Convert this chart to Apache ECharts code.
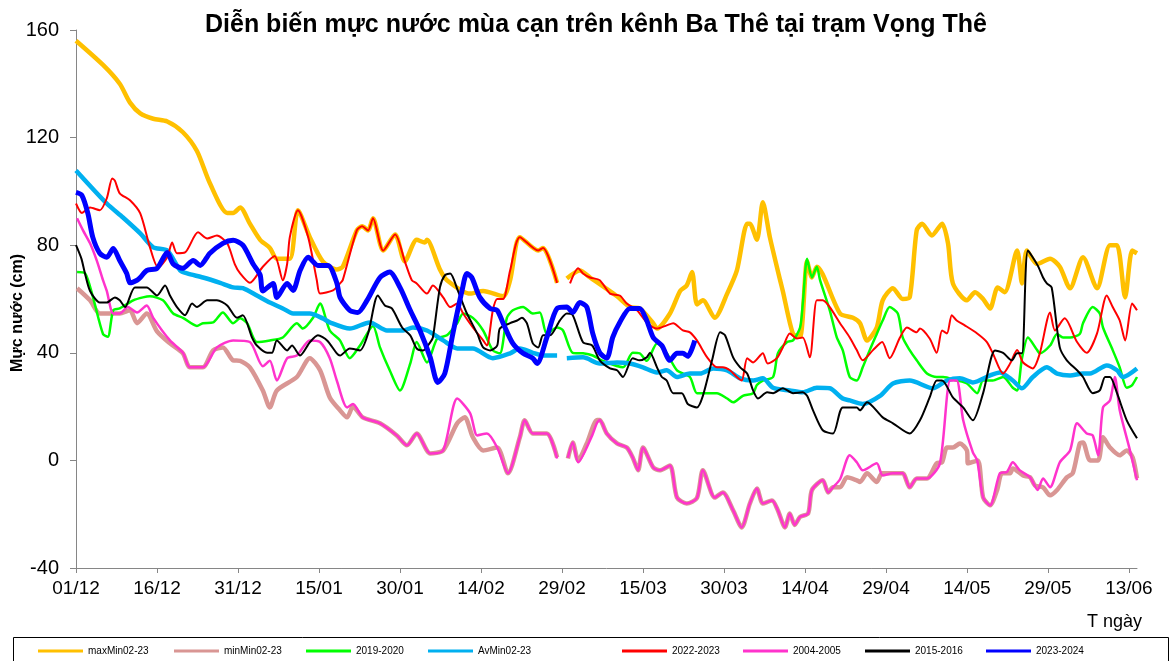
<!DOCTYPE html>
<html>
<head>
<meta charset="utf-8">
<title>Vọng Thê</title>
<script src="https://cdn.jsdelivr.net/npm/echarts@6/dist/echarts.min.js"></script>
<style>
  html, body { margin: 0; padding: 0; background: #fff; }
  #chart { width: 1174px; height: 661px; }
</style>
</head>
<body>
<div id="chart"></div>
<script>
// nhãn trục ngang, mỗi 15 ngày kể từ 01/12
var xTicks = ['01/12','16/12','31/12','15/01','30/01','14/02','29/02','15/03','30/03','14/04','29/04','14/05','29/05','13/06'];
var yTicks = [-40, 0, 40, 80, 120, 160];

// [ngày kể từ 01/12, mực nước cm]; null = thiếu số liệu
var maxMin = [[0,156],[5,147],[8.1,140],[10,133],[11.9,129],[14.3,127],[16.9,126],[19.8,122],[22.4,115],[24.8,103],[28,92],[29.1,92],[30.4,94],[32.2,88],[34.1,82],[35.9,79],[37.2,75],[39.6,75],[41.1,93],[43.3,83],[45.7,74],[48.3,71],[49.4,72],[52,85.5],[53,87],[54.1,85.5],[55,90],[56.9,78],[59.1,84],[60.9,74],[63.1,82],[64.6,81],[65,82],[67.4,71],[68.7,67],[73,62],[75.4,63],[79.1,61],[80.4,67],[82.2,83],[85.6,78],[86.5,79],[89.1,66],[90,null],[90.9,67.6],[93.3,70.6],[95.2,68],[100.2,61],[102.6,57],[104.4,56.5],[106.9,51],[107.6,49],[110,54.6],[111.9,63],[113.1,65],[114.1,70],[115,58],[116.1,59.5],[118.3,53],[120.6,62],[122.4,70.6],[124.3,88],[124.8,88],[126.1,82],[127.2,96],[128.5,83],[130.4,67],[130.9,63],[132.8,47],[134.1,46],[135.4,74],[136.3,68],[137.2,72],[141.5,54.6],[143.9,53],[145.2,51],[146.5,44.6],[148.3,49.4],[149.4,59.5],[151.3,64],[153.1,60],[154.4,60.6],[155.7,85.5],[156.7,88],[158.5,83.6],[160.4,88],[161.5,80.7],[162.4,65.8],[165,59.5],[166.5,62.5],[168,60],[169.3,56.5],[170.7,64.3],[172,62.5],[174.3,78],[175.2,65.8],[176.1,78],[178,73],[180.4,75],[182.2,72],[184.1,64],[186.5,75.5],[189.1,64],[191.5,80],[192.8,80],[194.3,60.6],[195.6,78],[196.5,77]];
var minMin = [[0.2,64],[2.6,59.5],[4.4,54.6],[6.9,54.6],[8.1,54.6],[10,55.8],[11.3,51],[13.1,54.6],[15,48],[17.4,43.5],[19.8,39.8],[21.1,34.6],[23.5,34.6],[25.4,40.9],[27.2,42],[29.1,37.2],[30.4,37],[32.2,34.6],[34.6,26],[35.9,19.7],[37.2,26],[40.9,31],[43.3,38],[45.2,33.5],[47,23.4],[48.9,18.6],[50.2,16],[51.3,20],[53.1,16],[56.3,13.8],[59.4,9.3],[61.3,5.6],[63.1,10],[65.6,2.6],[68,3.7],[70.6,13.8],[72,16],[73.5,8.6],[75.4,3.7],[78,4.8],[80,-4.8],[82.2,8.6],[83.1,14.9],[84.6,10],[87.2,10],[89.1,1.1],[90,null],[91.1,0.7],[92,6.7],[93,0],[94.6,6.3],[96.5,15],[97,15],[98.3,10],[100.2,6.3],[102,4.8],[103.1,1.1],[104.1,-3.7],[105,4.8],[106.9,-2.6],[108.1,-3.7],[110,-1.9],[111.3,-13.8],[113.1,-16],[115,-14],[116.1,-3.7],[118.3,-13.8],[119.8,-11.9],[121.7,-18.6],[123.3,-24.9],[124.8,-16],[126.1,-10.4],[127.2,-16],[128.9,-14.9],[130,-18.6],[131.3,-24.9],[132.2,-19.7],[133.1,-24],[134.1,-21],[135.6,-19.7],[136.3,-11],[138.3,-7.4],[139.3,-11.9],[140.2,-10],[141.5,-10],[142.8,-6.3],[144.6,-7.4],[145.2,-8],[146.5,-4.8],[148.3,-8],[149.3,-4.8],[151.3,-4.8],[153.1,-4.8],[154.4,-10],[155.7,-6.7],[157.6,-6.7],[159.4,-1.1],[160.4,-0.7],[161.3,4.8],[162.4,4.8],[163.7,6.3],[165,3.7],[165.2,-1.1],[167,0],[168,-13.8],[169.3,-16.7],[170.6,-11],[171.5,-4.8],[173,-4.8],[173.5,-3],[175.4,-5.6],[176.7,-6.3],[177.6,-9.3],[179.1,-10],[180.4,-13],[181.7,-11],[183.5,-6.3],[184.6,-4.8],[185.9,6.3],[186.5,6.7],[187.8,0],[189.3,0],[190.2,8.6],[191.5,4.8],[193.3,1.9],[194.6,3.7],[195.7,1.1],[196.5,-6.7]];
var y2019 = [[0.2,70],[1.7,69.5],[3.1,61],[5,47],[5.9,46],[6.9,55.8],[8.1,56.5],[10.6,59.5],[12.4,60.6],[13.7,61],[16.1,59.5],[18,54.6],[19.8,53],[22.4,50],[23.5,51],[25.4,51.3],[27.2,55],[29.1,51],[30.4,52.8],[31.7,51],[33.5,44],[35.9,44.6],[38.3,45.7],[40.9,51],[42,49],[43.9,53],[45.2,58.3],[47,48.3],[48.9,44.6],[50.7,38],[52.6,42.7],[55,50],[56.3,42],[58.1,33.5],[60,26],[61.9,36],[63.1,44],[65,36.4],[66.9,45.3],[68.7,46.5],[70.6,51],[71.7,54.6],[73.5,53],[75.4,48.3],[77.2,40.9],[78.5,39.8],[79.8,53],[80.9,55.8],[82.8,57],[84.6,54.6],[85.9,55],[87.2,47],[89.1,49.4],[90.2,48.3],[92,40],[93.9,39.8],[95.7,39],[97.6,37],[101.3,34.6],[103.1,40],[104.4,39.8],[105.7,37],[107.6,43.5],[109.4,39.8],[111.3,33.5],[113.7,31],[115,25],[116.9,25],[118.7,25],[120.6,23],[121.7,21.6],[123.5,24],[125.4,25],[126.1,28],[127.2,29.7],[129.1,31],[130,39.8],[131.7,44],[132.8,44.6],[134.1,49.4],[134.6,58.3],[135.4,75],[136.3,68],[137.2,72],[137.8,67],[139.6,55.8],[140.9,45.7],[142,41],[143.3,31],[144.6,29.7],[145.7,34.6],[147,41],[148.3,47],[149.4,52],[150.7,57],[152.2,54.6],[153.1,45.7],[154.4,41],[155.7,37.2],[157.6,32.3],[159.4,31],[160.6,31],[163.1,29.7],[165,28.6],[166.9,25],[168,29.7],[169.8,29.7],[171.7,31],[173.5,27],[174.3,26],[175.2,38],[176.3,45.7],[178,41],[178.5,39.8],[180.4,42.7],[181.7,47],[182.8,45.7],[184.1,45.7],[185.9,47],[186.5,51],[188.3,57],[189.6,54.6],[190.2,49.4],[192,41],[193.3,34.6],[194.6,27],[195.6,28],[196.5,31]];
var avMin = [[0,107.8],[5.7,95.5],[8.7,90.3],[11.9,84.4],[14.3,79.2],[16.9,78],[19.3,70.6],[20.6,69.5],[23.5,68],[26.7,66],[29.1,64.3],[30.9,64],[33.5,61.3],[35.9,58.7],[38.3,56.5],[40.2,54.6],[43.3,54.6],[45.7,52.8],[47,51.3],[50.7,49],[54.4,51.3],[57.6,48.3],[60.6,48.3],[62.4,49.4],[65,48.3],[68,44.6],[70.6,41.6],[73.5,41.6],[77.2,38],[80.4,39.8],[82.2,41.6],[84.6,40],[86.5,39],[89.1,39],[90,null],[90.9,38],[93.9,38.3],[97,36],[100.2,36.4],[102.6,36],[105,34.6],[107.6,32.7],[109.4,33.5],[111.3,31],[113.7,32.3],[115.6,32.3],[118,34.2],[120.6,33.5],[123,30.5],[125.4,29.7],[127.2,30.5],[129.1,27],[132.2,26],[134.6,25.3],[137.2,27],[139.6,26.8],[142,23],[143.3,22.3],[145.7,21],[148.9,24],[151.3,28.6],[154.4,29.7],[158.7,26.8],[161.3,29.7],[163.7,30.5],[166.1,29],[169.3,31.6],[171.1,32.7],[173.5,29.7],[175.2,26.8],[177.2,31],[179.8,34.6],[181.7,32.3],[184.1,31.6],[186.5,32.3],[187.8,32.3],[190.9,35.3],[192.8,33.5],[193.9,31],[196.5,34.2]];
var y2022 = [[0,95.5],[1.1,92],[2.6,94],[4.4,93],[5.7,97.4],[6.7,104.8],[7.2,104],[8.1,99.3],[10,96.7],[11.9,91.8],[13.7,79.2],[15.2,71.7],[16.9,75.5],[17.8,81],[18.7,77],[20.2,77.3],[22.6,84.8],[24.3,82.5],[26.1,83.6],[28,80.7],[29.4,73],[30.4,69.5],[32.2,66],[34.6,72],[36.8,76],[38.3,67],[39.1,73],[39.6,83],[41.1,93],[43,83],[44.6,67],[45.2,62],[47.6,63.2],[48.9,65.8],[49.4,67],[52,85.5],[53,87],[54.1,85.5],[55,90],[56.9,78],[59.1,84],[60.9,74],[62.2,67],[63.1,65.8],[65,62],[66.1,65],[68,60.6],[69.3,57],[70.6,58.3],[71.7,54.6],[73.5,49.4],[75.4,44.6],[76.1,42.7],[77.2,55.8],[78,60],[79.1,60],[80.4,70.6],[82.2,83],[85.6,78],[86.5,79],[89.1,66],[90,null],[91.5,65.8],[93,71.4],[93.9,69.5],[95.2,68],[97,67],[98.9,62],[100.7,61.3],[102,58.3],[103.9,55.8],[105.7,51.3],[107.6,49],[109.4,50.2],[110.6,51],[112.4,48.3],[113.7,47.6],[115,44.6],[116.9,38.3],[118.7,34.6],[119.8,34.6],[121.1,33.5],[122.4,31],[123.3,29.7],[124.3,38],[125.4,36.4],[127.2,39.8],[128.1,36],[129.8,38],[130.9,42],[132.2,47.2],[133.5,45.3],[134.6,45.7],[135.9,38.3],[137.2,59.5],[138.3,59.5],[139.6,57],[141.5,51],[143.3,45.7],[144.6,41],[145.7,37.2],[147.6,41],[149.3,44],[150.7,38],[152.6,45.7],[153.9,49.4],[155.7,47.6],[156.3,49],[158.1,45.3],[159.4,40],[160.4,48.3],[161.3,47.2],[162.2,54],[163.1,52],[164.6,50.2],[166.9,47.2],[168.7,44],[169.8,39.8],[171.7,32.3],[173,36],[174.3,41],[175.4,36.4],[177.2,34.2],[178.5,39.8],[180.4,55],[181.3,48.3],[183.1,52.8],[185.4,44],[187.2,40],[189.1,47.2],[190.9,61.3],[192,57],[193.3,52],[194.3,44.6],[195.6,58.3],[196.5,55.8]];
var y2004 = [[0.2,90],[1.3,85.5],[2.6,80.7],[3.9,74],[5,67],[5.7,63],[6.9,54.6],[8.1,54.6],[9.6,57],[11.3,55],[13.1,57.6],[14.3,53],[17.4,44.6],[19.8,40],[21.1,34.6],[23.5,34.6],[26.1,42],[29.1,44.6],[32.2,44],[34.6,35],[35.9,37],[37.2,29.7],[39.1,38],[40.9,39],[43.3,44.6],[45.2,44],[47,38],[48.3,29.7],[50.2,19.7],[51.3,21],[53.1,16],[56.3,13.8],[59.4,9.3],[61.3,5.6],[63.1,10],[65.6,2.6],[68,3.7],[70.6,23],[73,17.5],[74.3,9.3],[76.1,10],[78,4.8],[80,-4.8],[82.2,8.6],[83.1,14.9],[84.6,10],[87.2,10],[89.1,0.7],[90,null],[91.1,1],[92,6.7],[93,-0.7],[95.6,9.3],[96.5,14],[97,15],[98.3,10],[100.2,6.3],[102,4.8],[103.1,1.1],[104.1,-3.7],[105,4.8],[106.9,-2.6],[108.1,-3.7],[110,-1.9],[111.3,-13.8],[113.1,-16],[115,-14],[116.1,-3.7],[118.3,-13.8],[119.8,-11.9],[121.7,-18.6],[123.3,-24.9],[124.8,-16],[126.1,-10.4],[127.2,-16],[128.9,-14.9],[130,-18.6],[131.3,-24.9],[132.2,-19.7],[133.1,-24],[134.1,-21],[135.6,-19.7],[136.3,-11],[138.3,-7.4],[139.3,-11.9],[140.2,-10],[141.5,-7],[143.3,1.9],[144.6,-0.7],[145.7,-3.7],[148.3,-1.1],[149.4,-5.6],[151.3,-4.8],[153.1,-4.8],[154.4,-10],[155.7,-6.7],[157.6,-6.7],[160,-1.1],[161.9,29.7],[163.1,29.7],[164.3,15],[166.1,3],[166.9,0],[168,-13.8],[169.3,-16.7],[171.1,-4.8],[172.4,-4.3],[173.5,-0.7],[174.8,-3.7],[176.7,-6.3],[178.1,-11],[179.1,-6.7],[180.4,-10],[182.2,-0.7],[184.1,3.7],[185.4,13.8],[187.2,10],[188.3,9.3],[189.3,1.9],[190.2,19.7],[191.5,22.3],[192.4,31],[193.3,18.6],[195.2,3.7],[196.5,-7.4]];
var y2015 = [[0,80],[1,75],[1.6,70],[2.6,63],[4.4,58.7],[5.7,58.7],[7.2,60.6],[8.1,59.5],[9.1,57],[10.9,64.3],[13.1,64.3],[15,61.3],[16.5,65],[17.4,61.3],[18.7,57],[20.2,54],[21.5,58.3],[22.4,57],[24.3,59.5],[26.1,59.5],[28,57.6],[29.8,53],[30.9,54],[32.6,45.7],[33.5,42.7],[35.4,40],[36.3,40],[37.2,44.6],[39.1,40.9],[40,42.7],[41.5,39],[43.3,43.9],[44.8,46.5],[46.5,44.6],[48.3,39.8],[48.9,39],[50.7,41.6],[52.6,40.9],[54.1,47.2],[55.9,61.3],[57.2,57.6],[58.5,56.5],[60.4,49.4],[61.9,46.5],[63.1,41.6],[64.3,40.9],[65.6,43.9],[66.1,45.7],[67.4,64.3],[68.3,68.8],[69.3,69.5],[70.7,63.2],[72.4,54.6],[74.3,47.2],[75.4,42],[76.7,40.9],[78,42.7],[78.5,49],[80.4,51],[81.7,52],[82.6,53],[83.5,51],[84.6,43.5],[85.6,42],[86.5,46.5],[87.8,46.5],[89.6,52],[90.9,54.6],[92,54],[93.9,43.9],[95.6,42.7],[97,37.2],[98.9,34.2],[100.2,33.5],[101.3,31],[103.1,38],[104.4,37.2],[105.7,38.3],[106.3,40],[107.6,34.6],[108.5,31],[109.4,29.7],[110.6,25],[112.2,25],[113.3,21],[115,19.7],[116.1,24],[117.8,37.2],[119.3,47.6],[120.2,46.5],[121.7,38.3],[123,34.6],[124.3,32.3],[125.4,26],[126.3,23],[128,25.3],[129.1,25],[130.9,26.8],[132.8,25],[134.6,25.3],[135.4,24],[136.5,18.6],[138.3,11.2],[140.2,10],[142,19.7],[144.6,19.7],[145.2,18.6],[146.5,21.6],[149.4,16],[151.3,13.8],[154.4,10],[156.3,14.9],[158.1,23.4],[159.4,29.7],[160.4,29.7],[162.4,23.4],[164.3,19.7],[166.1,14.9],[168,25],[170.2,40.9],[171.7,40],[173.3,37.2],[174.3,39.8],[175.2,39.8],[176.3,78],[178.1,72.5],[179.1,68],[179.8,65.8],[180.7,64.3],[182.2,42],[183.5,37.2],[185.4,33.5],[186.5,31],[188.3,25],[189.6,26],[190.6,31],[191.5,31],[192.8,25],[194.6,14.9],[196.5,8.2]];
var y2023 = [[0,99.6],[1.1,98.5],[2.2,91.8],[3.1,83],[4.4,77],[5.7,75.5],[6.9,78.8],[8.1,74.3],[9.4,69.5],[10,66],[11.3,67],[11.9,68],[13.1,70.6],[15,71.4],[16.9,77.3],[18,73],[19.8,71.4],[21.7,74.3],[23,72.5],[24.8,77],[27.2,80.7],[29.1,81.8],[30.9,80],[32.8,73],[34.1,69],[34.6,63],[36.5,65.8],[37.2,60.6],[39.1,65.8],[40.2,63.2],[41.5,70.6],[43,75.5],[44.8,72.5],[46.7,72.5],[48.3,66],[48.9,60.6],[50.7,55.8],[52.2,55],[53.9,59.5],[56.3,68],[58.1,70],[60,64.3],[61.9,55.8],[63.7,48.3],[65.6,38.3],[67,29],[68.3,32.3],[69.8,47.2],[71.5,63.2],[72.4,69.5],[73.3,68],[74.8,60.6],[76.7,56.5],[78,55.8],[79.1,51],[80.9,43.5],[82.8,39.8],[84.6,38],[85.4,36],[87.2,45.7],[89.1,56.5],[90.9,57],[92,55],[93.3,58.7],[94.6,57],[95.7,47.2],[97,40],[98.3,38],[99.4,45.7],[100.7,51.3],[102.6,56.5],[104.4,56.5],[105.7,52],[106.9,45.7],[108.5,42.7],[110,37.2],[111.3,39.8],[112.4,39.8],[113.3,38.7],[114.6,44.6]];

var myChart = echarts.init(document.getElementById('chart'));

function toSeries(name, data, color, width) {
  return {
    name: name,
    type: 'line',
    data: data.map(function (p) { return [p[0], p[1] === null ? '-' : p[1]]; }),
    smooth: 0.25,
    showSymbol: false,
    symbol: 'none',
    connectNulls: false,
    lineStyle: { color: color, width: width },
    itemStyle: { color: color }
  };
}

var seriesList = [
  toSeries('maxMin02-23', maxMin, '#FFC000', 4.5),
  toSeries('minMin02-23', minMin, '#D99694', 4.5),
  toSeries('2019-2020', y2019, '#00FF00', 2.5),
  toSeries('AvMin02-23', avMin, '#00B0F0', 4.5),
  toSeries('2022-2023', y2022, '#FF0000', 2),
  toSeries('2004-2005', y2004, '#FF33CC', 2.5),
  toSeries('2015-2016', y2015, '#000000', 2),
  toSeries('2023-2024', y2023, '#0000FF', 5)
];

// vị trí từng mục chú thích
var legendLeft = [38, 174, 306, 428, 622, 743, 865, 986];
var legends = seriesList.map(function (s, i) {
  return {
    left: legendLeft[i],
    top: 646,
    icon: 'rect',
    itemWidth: 45,
    itemHeight: 3,
    itemGap: 0,
    padding: 0,
    data: [s.name],
    textStyle: { color: '#000', fontSize: 10, fontFamily: 'Liberation Sans, Arial, sans-serif' }
  };
});

var option = {
  animation: false,
  backgroundColor: '#fff',
  textStyle: { fontFamily: 'Liberation Sans, Arial, sans-serif' },
  title: {
    text: 'Diễn biến mực nước mùa cạn trên kênh Ba Thê tại trạm Vọng Thê',
    left: 200,
    top: 8,
    textStyle: { color: '#000', fontSize: 25, fontWeight: 'bold', fontFamily: 'Liberation Sans, Arial, sans-serif' }
  },
  legend: legends,
  grid: { left: 76, right: 37, top: 30, bottom: 93 },
  xAxis: {
    type: 'value',
    min: 0,
    max: 196.5,
    interval: 15,
    splitLine: { show: false },
    axisLine: { onZero: false, lineStyle: { color: '#868686', width: 1 } },
    axisTick: { length: 5, lineStyle: { color: '#868686' } },
    axisLabel: {
      color: '#000',
      fontSize: 19,
      margin: 11,
      showMaxLabel: false,
      formatter: function (v) { return v % 15 === 0 ? (xTicks[v / 15] || '') : ''; }
    }
  },
  yAxis: {
    type: 'value',
    min: yTicks[0],
    max: yTicks[yTicks.length - 1],
    interval: 40,
    splitLine: { show: false },
    axisLine: { show: true, onZero: false, lineStyle: { color: '#868686', width: 1 } },
    axisTick: { show: true, length: 6, lineStyle: { color: '#868686' } },
    axisLabel: { color: '#000', fontSize: 20, margin: 17 }
  },
  graphic: [
    {
      type: 'text',
      x: 18,
      y: 313,
      rotation: Math.PI / 2,
      style: { text: 'Mực nước (cm)', fill: '#000', font: 'bold 16px "Liberation Sans", Arial, sans-serif', align: 'center', verticalAlign: 'middle' }
    },
    {
      type: 'text',
      x: 1087,
      y: 622,
      style: { text: 'T ngày', fill: '#000', font: '18px "Liberation Sans", Arial, sans-serif', align: 'left', verticalAlign: 'middle' }
    },
    {
      type: 'rect',
      shape: { x: 13.5, y: 637.5, width: 1155, height: 40 },
      style: { fill: 'none', stroke: '#000', lineWidth: 1 },
      silent: true
    }
  ],
  series: seriesList
};

myChart.setOption(option);
</script>
</body>
</html>
